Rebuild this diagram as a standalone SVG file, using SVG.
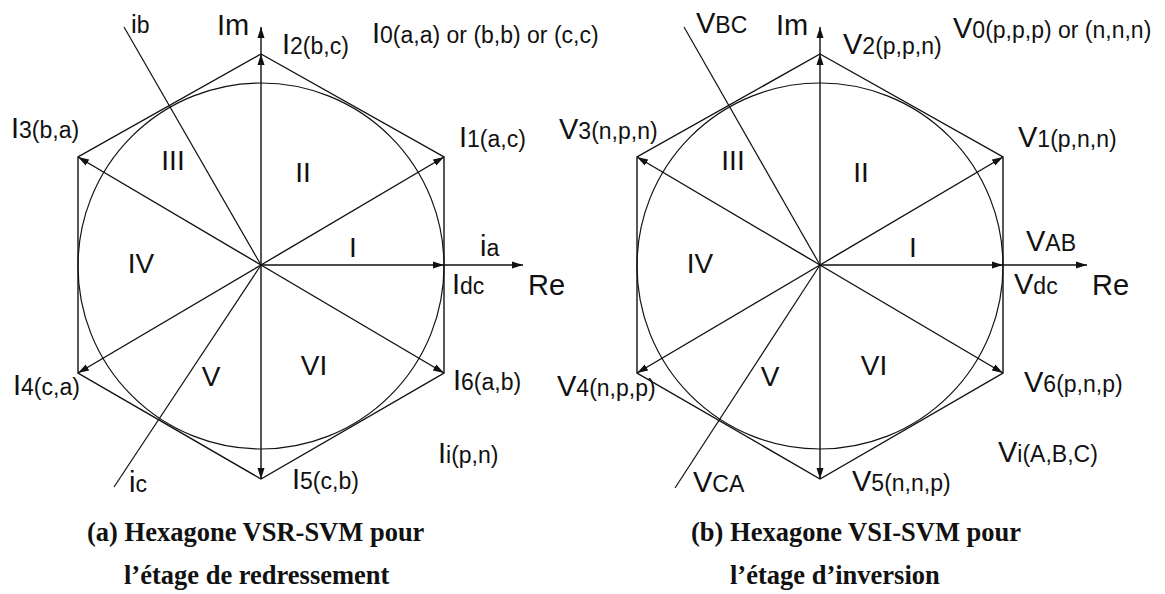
<svg xmlns="http://www.w3.org/2000/svg" width="1165" height="594" viewBox="0 0 1165 594">
<style>
.ln{stroke:#111;stroke-width:1.4;fill:none}
.thin{stroke:#111;stroke-width:1.2;fill:none}
.t{font-family:"Liberation Sans",Arial,sans-serif;fill:#111}
.m{font-size:29px}
.s{font-size:23px}
.sec{font-family:"Liberation Sans",Arial,sans-serif;font-size:28px;fill:#111;text-anchor:middle}
.cap{font-family:"Liberation Serif","Times New Roman",serif;font-weight:bold;font-size:26.5px;fill:#111}
</style>
<defs>
<marker id="ah" markerUnits="userSpaceOnUse" markerWidth="12" markerHeight="8" refX="11" refY="4" orient="auto">
<path d="M0,0.5 L11,4 L0,7.5 z" fill="#111"/>
</marker>
</defs>
<rect width="1165" height="594" fill="#fff"/>

<g id="hexagon-a">
<polygon class="ln" points="261,54 444,157 444,373 261,479 78,373 78,157"/>
<circle class="thin" cx="261" cy="266" r="183"/>
</g>
<g id="hexagon-b">
<polygon class="ln" points="820,54 1003,157 1003,373 820,479 637,373 637,157"/>
<circle class="thin" cx="820" cy="266" r="183"/>
</g>

<g id="connectors">
<line class="ln" x1="261" y1="265" x2="444" y2="157" marker-end="url(#ah)"/>
<line class="ln" x1="261" y1="265" x2="261" y2="54" marker-end="url(#ah)"/>
<line class="ln" x1="261" y1="265" x2="78" y2="157" marker-end="url(#ah)"/>
<line class="ln" x1="261" y1="265" x2="78" y2="373" marker-end="url(#ah)"/>
<line class="ln" x1="261" y1="265" x2="261" y2="479" marker-end="url(#ah)"/>
<line class="ln" x1="261" y1="265" x2="444" y2="373" marker-end="url(#ah)"/>
<line class="ln" x1="261" y1="265" x2="444" y2="265" marker-end="url(#ah)"/>
<line class="ln" x1="444" y1="265" x2="523" y2="265" marker-end="url(#ah)"/>
<line class="ln" x1="261" y1="54" x2="261" y2="27" marker-end="url(#ah)"/>
<line class="thin" x1="124" y1="27" x2="261" y2="265"/>
<line class="thin" x1="261" y1="265" x2="114" y2="487"/>
<line class="ln" x1="820" y1="265" x2="1003" y2="157" marker-end="url(#ah)"/>
<line class="ln" x1="820" y1="265" x2="820" y2="54" marker-end="url(#ah)"/>
<line class="ln" x1="820" y1="265" x2="637" y2="157" marker-end="url(#ah)"/>
<line class="ln" x1="820" y1="265" x2="637" y2="373" marker-end="url(#ah)"/>
<line class="ln" x1="820" y1="265" x2="820" y2="479" marker-end="url(#ah)"/>
<line class="ln" x1="820" y1="265" x2="1003" y2="373" marker-end="url(#ah)"/>
<line class="ln" x1="820" y1="265" x2="1003" y2="265" marker-end="url(#ah)"/>
<line class="ln" x1="1003" y1="265" x2="1087" y2="265" marker-end="url(#ah)"/>
<line class="ln" x1="820" y1="54" x2="820" y2="27" marker-end="url(#ah)"/>
<line class="thin" x1="684" y1="27" x2="820" y2="265"/>
<line class="thin" x1="820" y1="265" x2="675" y2="488"/>
</g>

<g id="labels-a">
<text class="t" x="131" y="33"><tspan style="font-size:26px">i</tspan><tspan class="s">b</tspan></text>
<text class="t m" x="217" y="35">Im</text>
<text class="t" x="282" y="54"><tspan class="m">I</tspan><tspan class="s">2(b,c)</tspan></text>
<text class="t" x="372" y="43"><tspan class="m">I</tspan><tspan class="s">0(a,a) or (b,b) or (c,c)</tspan></text>
<text class="t" x="11" y="138"><tspan class="m">I</tspan><tspan class="s">3(b,a)</tspan></text>
<text class="t" x="459" y="147"><tspan class="m">I</tspan><tspan class="s">1(a,c)</tspan></text>
<text class="t" x="480" y="256"><tspan class="m">i</tspan><tspan class="s">a</tspan></text>
<text class="t" x="452" y="294"><tspan class="m">I</tspan><tspan class="s">dc</tspan></text>
<text class="t m" x="528" y="295">Re</text>
<text class="t" x="13" y="395"><tspan class="m">I</tspan><tspan class="s">4(c,a)</tspan></text>
<text class="t" x="453" y="390"><tspan class="m">I</tspan><tspan class="s">6(a,b)</tspan></text>
<text class="t" x="438" y="463"><tspan class="m">I</tspan><tspan class="s">i(p,n)</tspan></text>
<text class="t" x="129" y="492"><tspan class="m">i</tspan><tspan class="s">c</tspan></text>
<text class="t" x="292" y="489"><tspan class="m">I</tspan><tspan class="s">5(c,b)</tspan></text>
<text class="sec" x="353" y="257">I</text>
<text class="sec" x="303" y="182">II</text>
<text class="sec" x="173" y="170">III</text>
<text class="sec" x="141" y="273">IV</text>
<text class="sec" x="211" y="386">V</text>
<text class="sec" x="314" y="375">VI</text>
<text class="cap" x="87" y="541">(a) Hexagone VSR-SVM pour</text>
<text class="cap" x="124" y="584">l’étage de redressement</text>
</g>

<g id="labels-b">
<text class="t" x="696" y="33"><tspan class="m">V</tspan><tspan class="s">BC</tspan></text>
<text class="t m" x="776" y="35">Im</text>
<text class="t" x="843" y="54"><tspan class="m">V</tspan><tspan class="s">2(p,p,n)</tspan></text>
<text class="t" x="953" y="38"><tspan class="m">V</tspan><tspan class="s">0(p,p,p) or (n,n,n)</tspan></text>
<text class="t" x="559" y="139"><tspan class="m">V</tspan><tspan class="s">3(n,p,n)</tspan></text>
<text class="t" x="1018" y="147"><tspan class="m">V</tspan><tspan class="s">1(p,n,n)</tspan></text>
<text class="t" x="1026" y="251"><tspan class="m">V</tspan><tspan class="s">AB</tspan></text>
<text class="t" x="1014" y="294"><tspan class="m">V</tspan><tspan class="s">dc</tspan></text>
<text class="t m" x="1092" y="295">Re</text>
<text class="t" x="557" y="396"><tspan class="m">V</tspan><tspan class="s">4(n,p,p)</tspan></text>
<text class="t" x="1024" y="392"><tspan class="m">V</tspan><tspan class="s">6(p,n,p)</tspan></text>
<text class="t" x="998" y="462"><tspan class="m">V</tspan><tspan class="s">i(A,B,C)</tspan></text>
<text class="t" x="693" y="492"><tspan class="m">V</tspan><tspan class="s">CA</tspan></text>
<text class="t" x="852" y="491"><tspan class="m">V</tspan><tspan class="s">5(n,n,p)</tspan></text>
<text class="sec" x="913" y="257">I</text>
<text class="sec" x="861" y="182">II</text>
<text class="sec" x="733" y="170">III</text>
<text class="sec" x="700" y="273">IV</text>
<text class="sec" x="770" y="386">V</text>
<text class="sec" x="874" y="375">VI</text>
<text class="cap" x="691" y="541">(b) Hexagone VSI-SVM pour</text>
<text class="cap" x="730" y="584">l’étage d’inversion</text>
</g>
</svg>
